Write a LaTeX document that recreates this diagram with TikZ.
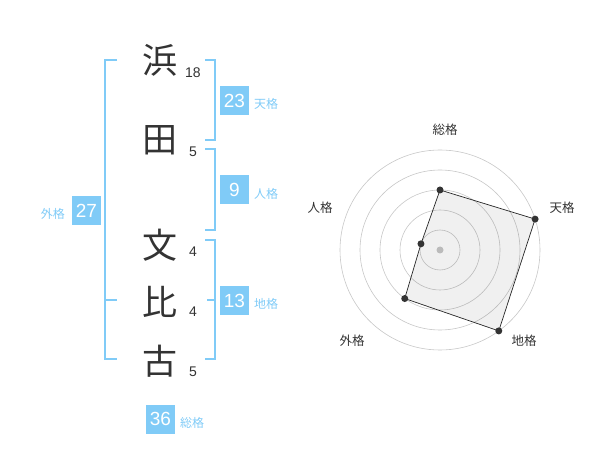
\documentclass[tikz,border=0pt]{standalone}
\usepackage{fontspec}
\setmainfont{Liberation Sans}
\newfontfamily\cjk{Noto Sans CJK JP}
\definecolor{kakublue}{RGB}{128,203,247}
\definecolor{inkgray}{RGB}{51,51,51}
\tikzset{
  kanji/.style={font=\cjk\fontsize{35}{35}\selectfont,text=inkgray,inner sep=0pt},
  strokes/.style={font=\fontsize{14}{14}\selectfont,text=inkgray,inner sep=0pt},
  kakubox/.style={fill=kakublue,text=white,minimum size=29pt,inner sep=0pt,font=\fontsize{19}{19}\selectfont},
  kakuname/.style={font=\cjk\fontsize{12}{12}\selectfont,text=kakublue,inner sep=0pt},
  bracket/.style={draw=kakublue,line width=1.5pt},
  ring/.style={draw=black!22,line width=0.6pt},
  radarlabel/.style={font=\cjk\fontsize{12.5}{12.5}\selectfont,text=inkgray,inner sep=0pt}
}
\begin{document}
\begin{tikzpicture}[x=1pt,y=-1pt]
  \useasboundingbox (0,0) rectangle (600,470);
  % name
  \node[kanji] (k1) at (160,60) {浜};
  \node[kanji] (k2) at (160,140) {田};
  \node[kanji] (k3) at (160,245) {文};
  \node[kanji] (k4) at (160,302) {比};
  \node[kanji] (k5) at (160,361) {古};
  \node[strokes] (s1) at (193,73) {18};
  \node[strokes] (s2) at (193,152) {5};
  \node[strokes] (s3) at (193,252) {4};
  \node[strokes] (s4) at (193,312) {4};
  \node[strokes] (s5) at (193,372) {5};
  % brackets
  \draw[bracket] (117,60) -| (105,359) -- (117,359);
  \draw[bracket] (105,300) -- (117,300);
  \draw[bracket] (205,60) -| (215,140) -- (205,140);
  \draw[bracket] (205,149) -| (215,230) -- (205,230);
  \draw[bracket] (205,240) -| (215,359) -- (205,359);
  \draw[bracket] (207,300) -- (215,300);
  % kaku
  \node[kakubox] (ten) at (234.5,100.5) {23};
  \node[kakubox] (jin) at (234.5,190) {9};
  \node[kakubox] (chi) at (234.5,300.5) {13};
  \node[kakubox] (gai) at (86.5,210.5) {27};
  \node[kakubox] (sou) at (160.5,419) {36};
  \node[kakuname,anchor=west] (tenname) at (254,104) {天格};
  \node[kakuname,anchor=west] (jinname) at (254,194) {人格};
  \node[kakuname,anchor=west] (chiname) at (254,304) {地格};
  \node[kakuname,anchor=east] (gainame) at (65,214) {外格};
  \node[kakuname,anchor=west] (souname) at (180,423) {総格};
  % radar
  \begin{scope}[shift={(440,250)},yscale=-1]
    \foreach \r in {20,40,60,80,100}
      \draw[ring] (0,0) circle (\r);
    \foreach \a/\r/\n in {90/60/1,18/100/2,-54/100/3,-126/60/4,162/20/5}
      \coordinate (p\n) at (\a:\r);
    \fill[black!22] (0,0) circle (3.5);
    \fill[black,fill opacity=0.06] (p1) -- (p2) -- (p3) -- (p4) -- (p5) -- cycle;
    \draw[black!85,line width=0.7pt] (p1) -- (p2) -- (p3) -- (p4) -- (p5) -- cycle;
    \foreach \n in {1,...,5}
      \fill[inkgray] (p\n) circle (3.5);
  \end{scope}
  \node[radarlabel] (rsou) at (445,130) {総格};
  \node[radarlabel] (rten) at (562,208) {天格};
  \node[radarlabel] (rchi) at (524,341) {地格};
  \node[radarlabel] (rgai) at (352,341) {外格};
  \node[radarlabel] (rjin) at (320,208) {人格};
\end{tikzpicture}
\end{document}
